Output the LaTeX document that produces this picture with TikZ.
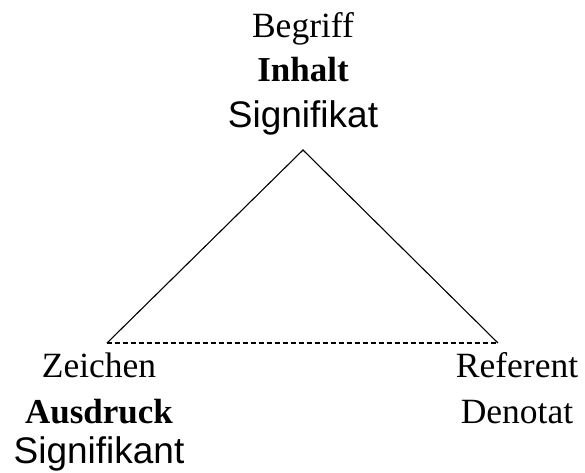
\documentclass[tikz,border=0pt]{standalone}
\usepackage{fontspec}
\setmainfont{Liberation Serif}
\newfontfamily\arialfont{Liberation Sans}
\begin{document}
\begin{tikzpicture}[x=1pt,y=-1pt,
  serif/.style={anchor=base,inner sep=0pt,font=\fontsize{35.5}{40}\selectfont},
  serifbold/.style={anchor=base,inner sep=0pt,font=\fontsize{35}{40}\selectfont\bfseries},
  sans/.style={anchor=base,inner sep=0pt,font=\arialfont\fontsize{37}{40}\selectfont},
  edge/.style={line width=1.1pt,black}]
\useasboundingbox (0,0) rectangle (585,472);
% semiotic triangle corners
\coordinate (top) at (303,150);
\coordinate (left) at (107,343);
\coordinate (right) at (498,343);
\draw[edge] (left) -- (top) -- (right);
\draw[edge,dash pattern=on 5pt off 3pt] (left) -- (right);
% labels at the apex
\node[serif] (begriff) at (303,37) {Begriff};
\node[serifbold] (inhalt) at (303,81) {Inhalt};
\node[sans] (signifikat) at (303,127) {Signifikat};
% labels at the left corner
\node[serif] (zeichen) at (99,377) {Zeichen};
\node[serifbold] (ausdruck) at (99,423) {Ausdruck};
\node[sans] (signifikant) at (99,463) {Signifikant};
% labels at the right corner
\node[serif] (referent) at (517,377) {Referent};
\node[serif] (denotat) at (517,423) {Denotat};
\end{tikzpicture}
\end{document}
